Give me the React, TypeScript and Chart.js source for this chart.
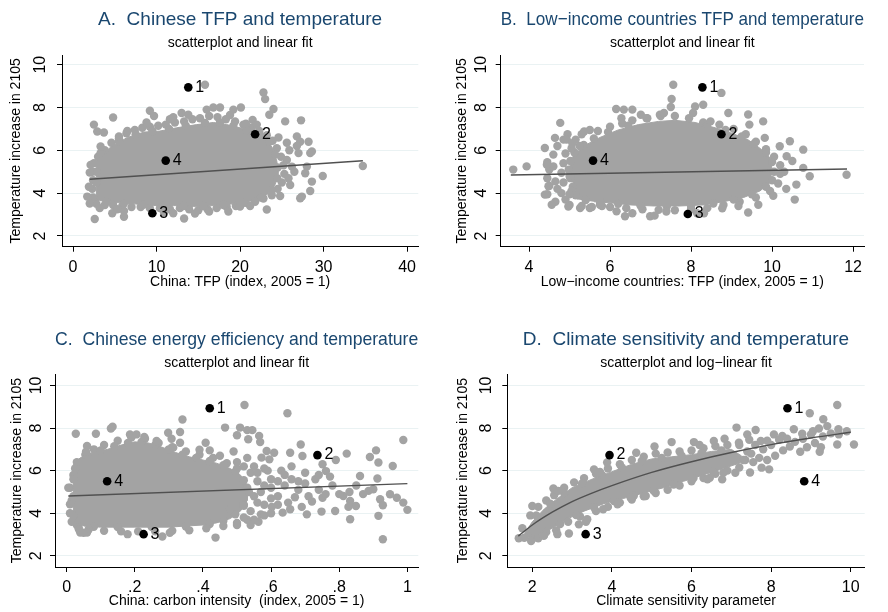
import React, { useEffect, useRef } from 'react';
import { Chart, registerables } from 'chart.js';

Chart.register(...registerables);

type P = [number, number];

const FONT = '"Liberation Sans", Arial, Helvetica, sans-serif';
const GRAY = '#a3a3a3';
const NAVY = '#1a476f';
const GRID = '#eaf2f3';
const FIT = '#505050';

const yTicks = [2, 4, 6, 8, 10];
const yTitle = 'Temperature increase in 2105';
const pointLabels = ['1', '2', '3', '4'];

// ---------- Panel A ----------
const aXTicks = [0, 10, 20, 30, 40];
const aXTickLabels = ['0', '10', '20', '30', '40'];
const aCore: P[] = [
  [2.8, 3.6], [2.8, 5.5], [4.5, 6.15], [6.5, 6.6], [8.5, 6.85], [10.4, 6.9], [12.4, 7.05], [14.8, 7.2],
  [16.8, 7.3], [18.4, 7.2], [20, 7.05], [21.6, 6.85], [23, 6.6], [23.9, 6.1], [24.4, 5.5], [24.6, 4.95],
  [24.2, 4.4], [23.3, 3.95], [21.6, 3.65], [19.2, 3.5], [16.8, 3.42], [14.4, 3.38], [12, 3.42], [9.6, 3.42],
  [7.3, 3.5], [4.9, 3.57], [3.2, 3.65],
];
const aDots: P[] = [
  [3.0, 5.7], [3.8, 6.0], [4.6, 6.35], [5.5, 6.55], [6.4, 6.8], [7.4, 6.95], [8.3, 7.05], [9.2, 7.1],
  [10.2, 7.15], [11.1, 7.2], [12.2, 7.3], [13.3, 7.35], [14.3, 7.45], [15.2, 7.5], [16.3, 7.6], [17.3, 7.55],
  [18.3, 7.45], [19.4, 7.35], [20.4, 7.2], [21.4, 7.05], [22.3, 6.9], [23.2, 6.7], [23.9, 6.45], [24.4, 6.1],
  [24.9, 5.7], [25.2, 5.3], [25.3, 4.9], [25.0, 4.5], [24.5, 4.2], [23.8, 3.9], [22.8, 3.75], [21.8, 3.6],
  [20.6, 3.55], [19.5, 3.4], [18.4, 3.35], [17.2, 3.3], [16.1, 3.25], [15.0, 3.2], [13.9, 3.25], [12.8, 3.3],
  [11.6, 3.25], [10.4, 3.3], [9.2, 3.3], [8.1, 3.35], [7.0, 3.35], [5.9, 3.4], [4.8, 3.45], [3.8, 3.45],
  [2.8, 3.5], [2.4, 3.8], [2.3, 4.2], [2.4, 4.6], [2.3, 5.0], [2.5, 5.4],
  [3.5, 5.85], [5.5, 6.4], [7.5, 6.75], [9.5, 6.9], [11.5, 7.0], [13.5, 7.15], [15.8, 7.28], [17.6, 7.3],
  [19.2, 7.15], [20.8, 6.95], [22.3, 6.75], [23.5, 6.4], [24.2, 5.8], [24.5, 5.2], [24.45, 4.7], [23.8, 4.15],
  [22.5, 3.8], [20.4, 3.58], [18.0, 3.45], [15.6, 3.4], [13.2, 3.4], [10.8, 3.42], [8.4, 3.46], [6.1, 3.53],
  [4.0, 3.6], [2.8, 4.5], [2.8, 5.0],
  [15.8, 9.06], [22.8, 8.7], [23.0, 8.39], [24.0, 7.93], [23.5, 7.66], [25.4, 7.35], [27.3, 7.4], [4.8, 7.53],
  [2.5, 7.2], [2.9, 6.88], [3.7, 6.83], [9.2, 7.85], [9.7, 7.6], [12.0, 7.55], [13.0, 7.74], [13.8, 7.66],
  [16.0, 7.9], [16.8, 8.0], [17.6, 8.0], [19.2, 7.9], [20.1, 8.0], [21.5, 7.42], [20.7, 7.24], [6.5, 6.9],
  [5.5, 6.65], [26.8, 6.65], [27.2, 6.4], [28.2, 6.4], [26.8, 6.2], [28.4, 5.87], [27.0, 5.87], [28.6, 5.95],
  [25.6, 5.55], [26.2, 5.24], [28.0, 5.24], [27.8, 4.93], [29.9, 4.8], [28.6, 4.54], [28.4, 4.1], [27.4, 3.84],
  [27.2, 3.76], [26.0, 4.38], [24.8, 3.87], [34.7, 5.27], [23.2, 3.24], [2.6, 2.79], [4.7, 3.06], [6.1, 2.9],
  [6.1, 3.17], [13.3, 2.82], [12.0, 3.06], [16.3, 3.14], [18.6, 3.14], [20.0, 3.37], [2.1, 5.32], [2.0, 4.96],
  [1.9, 4.3], [1.7, 3.84], [2.0, 3.52], [3.3, 5.87], [3.3, 6.18], [25.8, 4.7], [26.5, 5.0], [25.9, 6.0],
  [8.8, 7.3], [11.6, 7.45], [18.8, 7.65], [22.0, 7.2], [24.6, 6.6], [25.6, 6.35], [10.9, 3.1], [14.6, 3.05],
  [21.2, 3.4], [3.2, 3.3], [5.3, 3.25],
];
const aMarked: P[] = [[13.8, 8.94], [21.8, 6.75], [9.5, 3.06], [11.1, 5.52]];
const aFit: P[] = [[2.0, 4.65], [34.7, 5.51]];

// ---------- Panel B ----------
const bXTicks = [4, 6, 8, 10, 12];
const bXTickLabels = ['4', '6', '8', '10', '12'];
const bCore: P[] = [
  [5.2, 3.7], [5.1, 4.4], [5.0, 5.2], [5.1, 5.8], [5.45, 6.3], [5.75, 6.6], [6.2, 6.95], [6.7, 7.2],
  [7.2, 7.35], [7.6, 7.4], [8.1, 7.3], [8.6, 7.05], [9.0, 6.8], [9.4, 6.5], [9.7, 6.1], [9.95, 5.65],
  [10.0, 5.1], [9.95, 4.5], [9.7, 4.1], [9.3, 3.8], [8.8, 3.6], [8.3, 3.45], [7.7, 3.4], [7.1, 3.4],
  [6.5, 3.45], [6.0, 3.55], [5.6, 3.6],
];
const bDots: P[] = [
  [5.7, 6.9], [6.0, 7.1], [6.3, 7.25], [6.55, 7.4], [6.9, 7.5], [7.25, 7.6], [7.6, 7.6], [7.95, 7.5],
  [8.3, 7.3], [8.7, 7.2], [9.05, 7.0], [9.35, 6.75], [9.6, 6.4], [9.85, 6.05], [10.05, 5.7], [10.2, 5.3],
  [10.2, 4.9], [10.15, 4.45], [9.95, 4.1], [9.6, 3.8], [9.2, 3.6], [8.8, 3.45], [8.4, 3.3], [8.0, 3.25],
  [7.6, 3.2], [7.2, 3.22], [6.8, 3.25], [6.4, 3.3], [6.0, 3.35],
  [5.15, 3.9], [5.08, 4.3], [5.02, 4.7], [4.98, 5.1], [5.02, 5.5], [5.12, 5.9], [5.35, 6.25], [5.6, 6.55],
  [5.95, 6.85], [6.45, 7.15], [8.4, 7.2], [8.85, 6.95], [9.25, 6.65], [9.55, 6.3], [9.85, 5.9], [10.0, 5.45],
  [10.05, 5.0], [10.0, 4.6], [9.85, 4.3], [9.5, 3.95], [9.05, 3.7], [8.55, 3.52], [8.0, 3.4], [7.4, 3.38],
  [6.75, 3.42], [6.2, 3.5], [5.75, 3.6], [5.4, 3.68],
  [4.45, 3.95], [4.5, 4.35], [4.45, 4.7], [4.5, 5.1], [4.45, 5.45], [4.6, 5.8], [4.7, 6.2], [4.85, 6.5],
  [4.95, 6.75], [4.8, 4.0], [4.85, 4.5], [4.8, 4.95], [4.85, 5.4], [4.9, 5.85], [5.05, 6.1], [5.15, 6.5],
  [5.3, 6.75], [5.5, 6.95], [4.65, 3.6], [4.9, 3.7], [5.0, 3.45], [5.3, 3.4], [5.55, 3.35], [5.8, 3.4],
  [4.6, 5.25], [4.7, 4.2], [4.65, 4.55], [5.05, 4.1], [5.0, 4.8], [5.25, 6.2], [5.0, 3.95],
  [3.61, 5.1], [3.94, 5.25], [4.39, 6.11], [4.77, 7.28], [4.64, 6.58], [4.93, 6.5], [4.44, 5.33],
  [4.48, 4.32], [4.39, 3.93], [4.56, 3.46], [4.97, 3.38], [5.26, 3.31], [5.5, 3.31], [5.75, 3.46],
  [6.16, 3.15], [6.37, 2.92], [6.99, 2.92], [7.1, 2.95], [7.39, 3.14], [6.55, 3.06], [6.28, 7.5],
  [6.15, 7.93], [6.34, 7.9], [6.55, 7.9], [6.76, 7.66], [6.92, 7.5], [7.23, 7.66], [7.56, 9.06],
  [7.52, 8.4], [7.5, 8.02], [7.33, 7.74], [8.1, 8.05], [8.3, 8.13], [8.05, 7.74], [8.75, 8.68],
  [8.92, 7.74], [9.41, 7.67], [9.78, 7.35], [9.44, 7.2], [9.82, 6.58], [10.19, 6.19], [10.44, 6.42],
  [10.77, 6.03], [10.36, 5.72], [10.5, 5.5], [10.77, 5.18], [10.93, 4.79], [10.6, 4.4], [10.03, 3.88],
  [10.56, 3.7], [9.66, 3.46], [9.41, 3.1], [9.17, 3.4], [11.84, 4.86], [8.48, 7.35], [8.77, 3.29],
  [8.32, 3.06], [8.15, 3.06], [10.3, 5.0], [10.35, 4.2], [5.36, 6.88], [5.07, 6.33],
];
const bMarked: P[] = [[8.28, 8.94], [8.75, 6.75], [7.92, 3.03], [5.58, 5.52]];
const bFit: P[] = [[3.55, 4.85], [11.85, 5.13]];

// ---------- Panel C ----------
const cXTicks = [0, 0.2, 0.4, 0.6, 0.8, 1];
const cXTickLabels = ['0', '.2', '.4', '.6', '.8', '1'];
const cCore: P[] = [
  [0.02, 3.45], [0.02, 6.3], [0.04, 6.6], [0.08, 6.85], [0.12, 7.0], [0.16, 7.2], [0.2, 7.35], [0.24, 7.3],
  [0.28, 7.1], [0.32, 6.85], [0.36, 6.65], [0.4, 6.5], [0.44, 6.35], [0.48, 6.1], [0.51, 5.8], [0.53, 5.3],
  [0.53, 4.6], [0.51, 4.1], [0.48, 3.75], [0.44, 3.55], [0.4, 3.45], [0.3, 3.35], [0.2, 3.35], [0.1, 3.35],
  [0.05, 3.4],
];
const cDots: P[] = [
  [0.015, 3.6], [0.01, 4.0], [0.015, 4.6], [0.01, 5.2], [0.02, 5.8], [0.03, 6.4], [0.055, 6.75], [0.08, 7.0],
  [0.11, 7.2], [0.15, 7.4], [0.19, 7.55], [0.23, 7.5], [0.27, 7.3], [0.31, 7.1], [0.35, 6.9], [0.39, 6.75],
  [0.43, 6.6], [0.47, 6.35], [0.5, 6.1], [0.54, 5.9], [0.56, 5.5], [0.57, 5.0], [0.56, 4.5], [0.54, 4.1],
  [0.58, 5.3], [0.6, 4.7], [0.58, 4.4], [0.56, 5.9], [0.6, 5.2], [0.62, 5.5], [0.59, 6.0], [0.53, 5.2],
  [0.55, 4.8], [0.52, 4.4], [0.52, 6.2], [0.5, 6.4], [0.57, 3.95], [0.53, 3.7],
  [0.06, 6.75], [0.1, 6.95], [0.14, 7.15], [0.18, 7.3], [0.22, 7.35], [0.26, 7.2], [0.3, 7.0], [0.34, 6.75],
  [0.38, 6.6], [0.42, 6.45], [0.46, 6.25], [0.495, 5.95], [0.52, 5.55], [0.535, 5.0], [0.52, 4.35],
  [0.495, 3.95], [0.46, 3.65], [0.42, 3.5], [0.35, 3.38], [0.25, 3.35], [0.15, 3.35], [0.08, 3.37],
  [0.03, 3.45], [0.02, 3.9], [0.02, 4.8], [0.02, 5.6], [0.025, 6.1],
  [0.5, 3.55], [0.46, 3.4], [0.41, 3.3], [0.36, 3.2], [0.31, 3.18], [0.26, 3.15], [0.21, 3.15],
  [0.16, 3.15], [0.11, 3.18], [0.065, 3.25], [0.035, 3.35], [0.04, 3.1], [0.06, 3.1],
  [0.005, 5.2], [0.01, 4.42], [0.027, 7.73], [0.036, 3.25], [0.05, 3.09], [0.057, 6.89], [0.06, 7.16],
  [0.086, 7.73], [0.13, 7.98], [0.135, 8.06], [0.186, 7.7], [0.205, 7.7], [0.228, 7.58], [0.264, 7.39],
  [0.298, 7.78], [0.308, 7.5], [0.34, 8.4], [0.333, 7.81], [0.333, 7.31], [0.313, 7.08], [0.408, 7.31],
  [0.42, 6.95], [0.39, 6.98], [0.465, 8.02], [0.522, 9.08], [0.509, 8.02], [0.53, 7.9], [0.545, 7.9],
  [0.5, 7.66], [0.533, 7.47], [0.565, 7.63], [0.568, 7.34], [0.648, 8.69], [0.587, 6.92], [0.609, 6.84],
  [0.572, 6.61], [0.595, 6.53], [0.656, 6.84], [0.687, 7.23], [0.692, 6.69], [0.751, 6.3], [0.761, 5.98],
  [0.773, 5.72], [0.822, 6.8], [0.89, 6.64], [0.908, 6.95], [0.915, 6.38], [0.988, 7.44], [0.957, 6.22],
  [0.861, 5.75], [0.912, 5.63], [0.886, 5.05], [0.9, 5.13], [0.969, 4.73], [0.949, 4.89], [0.812, 4.81],
  [0.832, 4.58], [0.849, 4.34], [0.827, 4.3], [0.788, 4.11], [0.92, 4.66], [0.915, 3.88], [0.928, 4.38],
  [0.988, 4.5], [1.0, 4.16], [0.928, 2.78], [0.832, 3.72], [0.705, 3.95], [0.748, 4.08], [0.751, 4.73],
  [0.656, 4.19], [0.634, 4.03], [0.563, 3.6], [0.602, 4.3], [0.437, 2.86], [0.281, 2.91], [0.303, 3.09],
  [0.179, 3.02], [0.64, 5.3], [0.66, 5.6], [0.68, 5.1], [0.7, 5.4], [0.71, 4.8], [0.73, 5.6], [0.74, 5.1],
  [0.76, 4.9], [0.62, 4.8], [0.65, 4.5], [0.67, 4.75], [0.69, 4.3], [0.72, 4.55], [0.78, 5.3], [0.8, 4.9],
  [0.83, 5.0], [0.85, 5.3], [0.87, 4.9], [0.6, 5.6], [0.63, 6.0], [0.66, 6.2], [0.7, 5.9], [0.74, 5.8],
  [0.79, 6.5], [0.55, 6.2], [0.53, 6.6], [0.58, 6.1], [0.49, 6.9], [0.45, 6.7], [0.48, 4.2], [0.52, 3.8],
  [0.55, 3.7], [0.58, 3.9], [0.6, 4.0], [0.5, 3.45], [0.54, 3.45], [0.62, 4.4], [0.64, 5.8], [0.68, 5.5],
];
const cMarked: P[] = [[0.42, 8.93], [0.736, 6.73], [0.226, 3.02], [0.119, 5.5]];
const cFit: P[] = [[0.005, 4.81], [1.0, 5.39]];

// ---------- Panel D ----------
const dXTicks = [2, 4, 6, 8, 10];
const dXTickLabels = ['2', '4', '6', '8', '10'];
const dCore: P[] = [
  [1.8, 3.05], [2.0, 3.6], [2.3, 4.2], [2.6, 4.65], [3.0, 5.2], [3.5, 5.6], [4.0, 5.95], [4.5, 6.3],
  [5.0, 6.55], [5.5, 6.65], [6.0, 6.75], [6.5, 6.9], [7.0, 7.0], [7.25, 6.7], [7.2, 6.35],
  [6.8, 6.1], [6.3, 5.8], [5.8, 5.5], [5.3, 5.2], [4.8, 4.95], [4.3, 4.7], [3.8, 4.45], [3.3, 4.1],
  [2.9, 3.75], [2.5, 3.3], [2.2, 3.0], [1.9, 2.85],
];
const dDots: P[] = [
  [1.75, 3.3], [1.95, 3.9], [2.15, 4.3], [2.35, 4.6], [2.55, 4.85], [2.8, 5.2], [3.05, 5.45], [3.3, 5.65],
  [3.6, 5.85], [3.9, 6.1], [4.2, 6.3], [4.5, 6.5], [4.8, 6.65], [5.1, 6.8], [5.4, 6.85], [5.7, 6.9],
  [6.0, 6.95], [6.3, 7.05], [6.6, 7.15], [6.9, 7.2], [7.2, 7.2], [7.4, 6.9], [7.35, 6.5],
  [2.0, 2.8], [2.3, 3.0], [2.6, 3.2], [2.9, 3.6], [3.2, 3.85], [3.35, 3.6], [3.6, 4.1], [3.9, 4.3],
  [4.2, 4.5], [4.5, 4.65], [4.8, 4.8], [5.1, 4.95], [5.4, 5.1], [5.7, 5.3], [6.0, 5.5], [6.3, 5.65],
  [6.6, 5.85], [6.9, 6.0], [7.2, 6.15], [1.8, 2.85],
  [2.1, 3.9], [2.45, 4.45], [2.8, 4.95], [3.25, 5.4], [3.75, 5.8], [4.25, 6.15], [4.75, 6.45], [5.25, 6.6],
  [5.75, 6.7], [6.25, 6.82], [6.75, 6.95], [6.55, 5.95], [6.05, 5.65], [5.55, 5.35], [5.05, 5.05],
  [4.55, 4.82], [4.05, 4.58], [3.55, 4.28], [3.1, 3.92], [2.7, 3.5], [2.35, 3.12],
  [1.66, 2.83], [1.97, 2.7], [2.15, 2.83], [2.0, 4.34], [2.53, 5.16], [2.65, 5.05], [2.92, 3.05],
  [3.17, 3.48], [3.55, 6.06], [3.7, 5.94], [3.88, 6.38], [4.61, 6.84], [5.07, 7.13], [5.5, 7.34],
  [6.06, 7.34], [6.56, 7.39], [6.83, 7.5], [7.13, 8.02], [7.61, 7.91], [7.4, 7.7], [7.19, 7.31],
  [7.74, 7.39], [8.07, 7.7], [8.28, 7.63], [8.57, 7.94], [8.78, 7.73], [8.97, 8.69], [9.31, 8.41],
  [9.2, 7.98], [9.41, 8.09], [9.66, 9.08], [9.69, 7.94], [9.66, 7.23], [10.08, 7.23], [9.22, 6.89],
  [8.73, 6.89], [8.47, 7.13], [7.95, 6.06], [7.76, 6.14], [7.47, 5.91], [6.77, 5.59], [6.46, 5.67],
  [4.85, 4.81], [4.47, 4.73], [4.14, 4.42], [3.78, 4.19], [3.38, 3.72], [2.63, 3.02],
  [2.29, 2.94], [7.5, 6.8], [7.8, 7.0], [8.0, 7.2], [7.7, 6.6], [8.1, 6.7], [7.3, 6.5], [7.9, 7.4],
  [8.2, 7.45], [7.6, 7.2], [8.4, 7.5], [8.6, 7.35], [8.8, 7.5], [9.0, 7.7], [9.1, 7.3], [9.3, 7.6],
  [9.5, 7.75], [9.7, 7.7], [9.9, 7.85], [9.25, 7.1], [8.9, 7.1], [9.05, 7.85], [6.4, 5.6], [6.8, 5.9],
  [7.1, 5.9], [7.55, 6.4], [7.9, 6.5], [8.3, 6.95], [7.45, 7.45], [6.2, 7.2],
];
const dMarked: P[] = [[8.41, 8.93], [3.94, 6.73], [3.34, 3.02], [8.83, 5.5]];
const dFit: P[] = [
  [1.65, 2.93], [2, 3.45], [2.5, 4.05], [3, 4.55], [3.5, 4.95], [4, 5.3], [5, 5.92], [6, 6.42],
  [7, 6.85], [8, 7.22], [9, 7.53], [10, 7.8],
];

interface Panel {
  key: string;
  left: number;
  top: number;
  title: string;
  subtitle: string;
  xTitle: string;
  xMin: number;
  xMax: number;
  yMin: number;
  yMax: number;
  xTicks: number[];
  xTickLabels: string[];
  core: P[];
  dots: P[];
  marked: P[];
  fit: P[];
  curve: boolean;
  area: { l: number; r: number; b: number };
  titlePadTop: number;
  subPadTop: number;
  subPadBottom: number;
  yTickOff: number;
  yTitlePad: number;
  xTitlePad: number;
}

const W = 444;
const H = 306;

const panels: Panel[] = [
  {
    key: 'A', left: 0, top: 0,
    title: 'A.  Chinese TFP and temperature', subtitle: 'scatterplot and linear fit',
    xTitle: 'China: TFP (index, 2005 = 1)',
    xMin: -1.32, xMax: 41.34, yMin: 1.5, yMax: 10.45,
    xTicks: aXTicks, xTickLabels: aXTickLabels, core: aCore, dots: aDots, marked: aMarked, fit: aFit, curve: false,
    area: { l: 62, r: 418.3, b: 246.7 }, titlePadTop: 7.9, subPadTop: 3.6, subPadBottom: 3.9,
    yTickOff: 21.5, yTitlePad: 7.4, xTitlePad: 15.9,
  },
  {
    key: 'B', left: 444, top: 0,
    title: 'B.  Low\u2212income countries TFP and temperature', subtitle: 'scatterplot and linear fit',
    xTitle: 'Low\u2212income countries: TFP (index, 2005 = 1)',
    xMin: 3.3, xMax: 12.27, yMin: 1.5, yMax: 10.45,
    xTicks: bXTicks, xTickLabels: bXTickLabels, core: bCore, dots: bDots, marked: bMarked, fit: bFit, curve: false,
    area: { l: 56.7, r: 420, b: 246.7 }, titlePadTop: 7.9, subPadTop: 3.6, subPadBottom: 3.9,
    yTickOff: 19.2, yTitlePad: 9.9, xTitlePad: 15.9,
  },
  {
    key: 'C', left: 0, top: 306,
    title: 'C.  Chinese energy efficiency and temperature', subtitle: 'scatterplot and linear fit',
    xTitle: 'China: carbon intensity  (index, 2005 = 1)',
    xMin: -0.034, xMax: 1.032, yMin: 1.48, yMax: 10.52,
    xTicks: cXTicks, xTickLabels: cXTickLabels, core: cCore, dots: cDots, marked: cMarked, fit: cFit, curve: false,
    area: { l: 55, r: 418.3, b: 261 }, titlePadTop: 21.9, subPadTop: 3.6, subPadBottom: 3.2,
    yTickOff: 18.3, yTitlePad: 9.1, xTitlePad: 2.6,
  },
  {
    key: 'D', left: 444, top: 306,
    title: 'D.  Climate sensitivity and temperature', subtitle: 'scatterplot and log\u2212linear fit',
    xTitle: 'Climate sensitivity parameter',
    xMin: 1.372, xMax: 10.35, yMin: 1.48, yMax: 10.52,
    xTicks: dXTicks, xTickLabels: dXTickLabels, core: dCore, dots: dDots, marked: dMarked, fit: dFit, curve: true,
    area: { l: 63.3, r: 420.7, b: 261 }, titlePadTop: 21.9, subPadTop: 3.6, subPadBottom: 3.2,
    yTickOff: 20.8, yTitlePad: 10.6, xTitlePad: 2.6,
  },
];

const toXY = (arr: P[]) => arr.map(([x, y]) => ({ x, y }));

function makeConfig(p: Panel): any {
  const textPlugin = {
    id: 'panelText',
    afterDatasetsDraw(chart: any) {
      const ctx = chart.ctx;
      const area = chart.chartArea;
      const ys = chart.scales.y;
      ctx.save();
      ctx.fillStyle = '#000';
      ctx.font = `16px ${FONT}`;
      ctx.textAlign = 'center';
      ctx.textBaseline = 'middle';
      for (const v of yTicks) {
        const py = ys.getPixelForValue(v);
        ctx.save();
        ctx.translate(area.left - p.yTickOff, py);
        ctx.rotate(-Math.PI / 2);
        ctx.fillText(String(v), 0, 0);
        ctx.restore();
      }
      const meta = chart.getDatasetMeta(3);
      ctx.textAlign = 'left';
      meta.data.forEach((el: any, i: number) => {
        ctx.fillText(pointLabels[i], el.x + 7, el.y);
      });
      ctx.restore();
    },
  };

  return {
    type: 'scatter',
    data: {
      datasets: [
        {
          type: 'line', data: toXY(p.core), fill: 'shape', backgroundColor: GRAY, borderColor: GRAY,
          borderWidth: 1, pointRadius: 0, tension: 0, order: 4,
        },
        {
          type: 'scatter', data: toXY(p.dots), backgroundColor: GRAY, borderWidth: 0,
          pointRadius: 4.2, order: 3,
        },
        {
          type: 'line', data: toXY(p.fit), borderColor: FIT, borderWidth: 1.4, pointRadius: 0, fill: false,
          tension: p.curve ? 0.4 : 0, cubicInterpolationMode: p.curve ? 'monotone' : 'default', order: 2,
        },
        {
          type: 'scatter', data: toXY(p.marked), backgroundColor: '#000', borderWidth: 0,
          pointRadius: 4.3, order: 1,
        },
      ],
    },
    options: {
      responsive: false,
      animation: false,
      events: [],
      layout: { padding: { left: 0, right: W - p.area.r, top: 0, bottom: 0 } },
      plugins: {
        legend: { display: false },
        tooltip: { enabled: false },
        title: {
          display: true, text: p.title, color: NAVY, fullSize: false,
          font: { family: FONT, size: 19, weight: 'normal', lineHeight: 1.2 },
          padding: { top: p.titlePadTop, bottom: 0 },
        },
        subtitle: {
          display: true, text: p.subtitle, color: '#000', fullSize: false,
          font: { family: FONT, size: 14, weight: 'normal', lineHeight: 1.2 },
          padding: { top: p.subPadTop, bottom: p.subPadBottom },
        },
      },
      scales: {
        x: {
          type: 'linear', min: p.xMin, max: p.xMax,
          afterBuildTicks: (s: any) => { s.ticks = p.xTicks.map((v) => ({ value: v })); },
          afterFit: (s: any) => { s.height = H - p.area.b; },
          ticks: {
            callback: (v: number) => { const i = p.xTicks.indexOf(v); return i >= 0 ? p.xTickLabels[i] : ''; },
            font: { family: FONT, size: 16 }, color: '#000', padding: 6, maxRotation: 0, autoSkip: false,
          },
          grid: { drawOnChartArea: false, drawTicks: true, tickLength: 5, tickColor: '#000', tickWidth: 1 },
          border: { display: true, color: '#000', width: 1 },
          title: {
            display: true, text: p.xTitle, color: '#000',
            font: { family: FONT, size: 14, lineHeight: 1.2 }, padding: { top: 0, bottom: p.xTitlePad },
          },
        },
        y: {
          type: 'linear', min: p.yMin, max: p.yMax,
          afterBuildTicks: (s: any) => { s.ticks = yTicks.map((v) => ({ value: v })); },
          afterFit: (s: any) => { s.width = p.area.l; },
          ticks: { display: false },
          grid: { color: GRID, lineWidth: 1, drawTicks: true, tickLength: 5, tickColor: '#000', tickWidth: 1 },
          border: { display: true, color: '#000', width: 1 },
          title: {
            display: true, text: yTitle, color: '#000',
            font: { family: FONT, size: 14, lineHeight: 1.2 }, padding: { top: p.yTitlePad, bottom: 0 },
          },
        },
      },
    },
    plugins: [textPlugin],
  };
}

function PanelChart({ p }: { p: Panel }) {
  const ref = useRef<HTMLCanvasElement>(null);
  useEffect(() => {
    if (!ref.current) return;
    const chart = new Chart(ref.current, makeConfig(p));
    return () => chart.destroy();
  }, [p]);
  return (
    <canvas
      ref={ref}
      width={W}
      height={H}
      style={{ position: 'absolute', left: p.left, top: p.top, width: W, height: H, display: 'block' }}
    />
  );
}

export default function App() {
  return (
    <div style={{ position: 'fixed', left: 0, top: 0, width: 888, height: 612, background: '#fff' }}>
      {panels.map((p) => (
        <PanelChart key={p.key} p={p} />
      ))}
    </div>
  );
}
